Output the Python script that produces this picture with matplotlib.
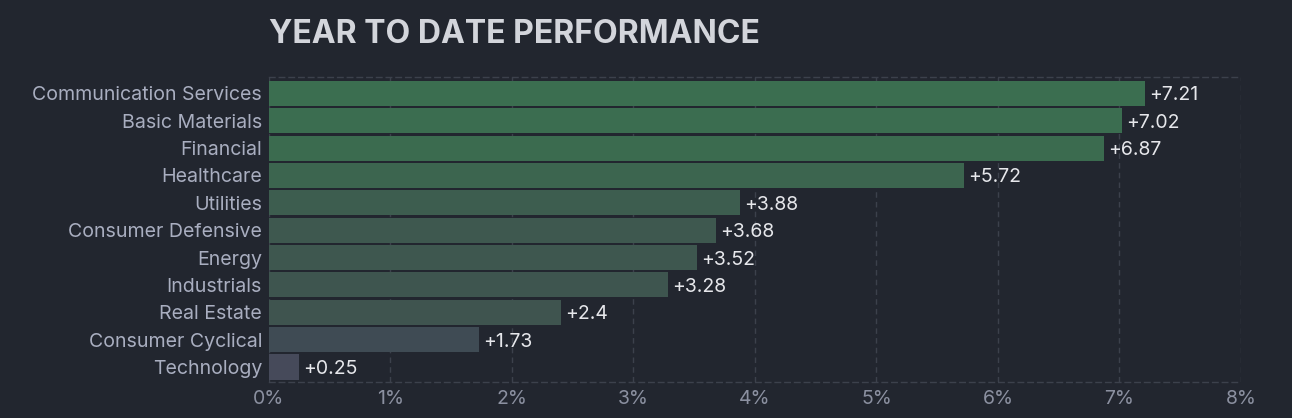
import matplotlib
matplotlib.use('Agg')
import matplotlib.pyplot as plt

sectors = ['Communication Services', 'Basic Materials', 'Financial', 'Healthcare',
           'Utilities', 'Consumer Defensive', 'Energy', 'Industrials',
           'Real Estate', 'Consumer Cyclical', 'Technology']
ytd = [7.21, 7.02, 6.87, 5.72, 3.88, 3.68, 3.52, 3.28, 2.4, 1.73, 0.25]
value_labels = ['+7.21', '+7.02', '+6.87', '+5.72', '+3.88', '+3.68', '+3.52',
                '+3.28', '+2.4', '+1.73', '+0.25']
x_ticks = [0, 1, 2, 3, 4, 5, 6, 7, 8]

bar_colors = ['#3b6e50', '#3b6d50', '#3b6b4f', '#3c654f', '#3d5d4f', '#3e584f',
              '#3e574f', '#3e554f', '#3f544f', '#3f4b54', '#464a5a']

bg = '#22262f'
plt.rcParams['font.family'] = ['Inter', 'DejaVu Sans']

fig = plt.figure(figsize=(12.92, 4.18), dpi=100, facecolor=bg)
ax = fig.add_axes([0.2082, 0.0861, 0.7523, 0.7297], facecolor=bg)

y = list(range(len(sectors)))
ax.barh(y, ytd, height=0.92, color=bar_colors, zorder=3)

for yi, v, lab in zip(y, ytd, value_labels):
    ax.annotate(lab, (v, yi), xytext=(3, 0), textcoords='offset points',
                va='center_baseline', ha='left', color='#e6e7eb', fontsize=14, zorder=4)

ax.set_xlim(0, 8)
ax.set_ylim(len(sectors) - 0.45, -0.6)
ax.set_yticks(y)
ax.set_yticklabels(sectors)
ax.set_xticks(x_ticks)
ax.set_xticklabels([f'{t}%' for t in x_ticks])
ax.tick_params(axis='y', length=0, pad=5, labelcolor='#a9aec0', labelsize=14.1)
ax.tick_params(axis='x', length=0, pad=6, labelcolor='#8b90a0', labelsize=14)

ax.grid(axis='x', color='#3c414c', linestyle=(0, (4, 3)), linewidth=1, zorder=0)
for side in ['left', 'right']:
    ax.spines[side].set_visible(False)
for side in ['top', 'bottom']:
    ax.spines[side].set_color('#3c414c')
    ax.spines[side].set_linestyle((0, (4, 3)))
    ax.spines[side].set_linewidth(1)

fig.text(0.2082, 0.918, 'YEAR TO DATE PERFORMANCE', color='#d3d5db',
         fontsize=23, fontweight='bold', ha='left', va='center')

plt.savefig('out.png', dpi=100, facecolor=bg)
